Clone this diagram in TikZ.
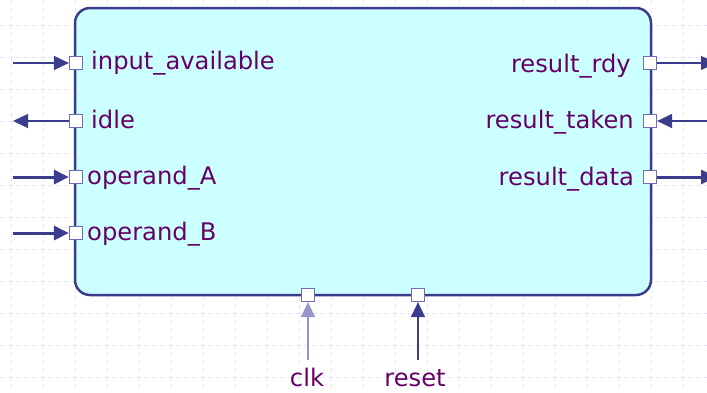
\documentclass[tikz,border=0pt]{standalone}
\usepackage{fontspec}
\setmainfont{DejaVu Sans}
\usetikzlibrary{arrows.meta}
\definecolor{navy}{RGB}{60,60,140}
\definecolor{portedge}{RGB}{110,110,180}
\definecolor{clkline}{RGB}{150,150,200}
\definecolor{boxfill}{RGB}{204,255,255}
\definecolor{labelcol}{RGB}{102,0,102}
\definecolor{gridcol}{RGB}{228,232,255}
\tikzset{
  block/.style={draw=navy, line width=2.5pt, fill=boxfill, rounded corners=15pt},
  port/.style={draw=portedge, line width=1.2pt, fill=white, minimum size=13pt, inner sep=0pt},
  sig/.style={draw=navy, line width=1.3pt, -{Triangle[length=15pt,width=14pt]}},
  bus/.style={draw=navy, line width=3pt, -{Triangle[length=15pt,width=14pt]}},
  lbl/.style={text=labelcol, font=\fontsize{24.2}{29}\selectfont, inner sep=0pt},
  bggrid/.style={draw=gridcol, line width=0.8pt, dash pattern=on 5pt off 3pt}
}
\begin{document}
\begin{tikzpicture}[x=1pt,y=-1pt]
  \useasboundingbox (0,0) rectangle (707,392);
  % background grid
  \foreach \gx in {11,43,...,715} \draw[bggrid] (\gx,0) -- (\gx,392);
  \foreach \gy in {25,57,...,392} \draw[bggrid] (0,\gy) -- (707,\gy);

  % module body
  \draw[block] (75,8) rectangle (651,295);

  % ports on the left edge
  \node[port] (pin)  at (76,63)  {};
  \node[port] (pidl) at (76,121) {};
  \node[port] (popa) at (76,177) {};
  \node[port] (popb) at (76,233) {};
  % ports on the right edge
  \node[port] (prdy) at (650,63)  {};
  \node[port] (ptak) at (650,121) {};
  \node[port] (pdat) at (650,177) {};
  % ports on the bottom edge
  \node[port] (pclk) at (308,295) {};
  \node[port] (prst) at (418,295) {};

  % free ends of the connectors
  \coordinate (ein)  at (13,63);
  \coordinate (eidl) at (13,121);
  \coordinate (eopa) at (13,177);
  \coordinate (eopb) at (13,233);
  \coordinate (erdy) at (716,63);
  \coordinate (etak) at (712,121);
  \coordinate (edat) at (716,177);
  \coordinate (eclk) at (308,360);
  \coordinate (erst) at (418,360);

  % connectors
  \draw[sig] (ein) -- (pin.west);
  \draw[sig] (pidl.west) -- (eidl);
  \draw[bus] (eopa) -- (popa.west);
  \draw[bus] (eopb) -- (popb.west);
  \draw[sig] (prdy.east) -- (erdy);
  \draw[sig] (etak) -- (ptak.east);
  \draw[bus] (pdat.east) -- (edat);
  \draw[sig, draw=clkline] (eclk) -- (pclk.south);
  \draw[sig] (erst) -- (prst.south);

  % port labels
  \node[lbl, anchor=base west] (lin)  at (91,69)  {input\_available};
  \node[lbl, anchor=base west] (lidl) at (91,128) {idle};
  \node[lbl, anchor=base west] (lopa) at (87,184) {operand\_A};
  \node[lbl, anchor=base west] (lopb) at (87,240) {operand\_B};
  \node[lbl, anchor=base east] (lrdy) at (631,72)  {result\_rdy};
  \node[lbl, anchor=base east] (ltak) at (634,128) {result\_taken};
  \node[lbl, anchor=base east] (ldat) at (634,185) {result\_data};
  \node[lbl, anchor=base] (lclk) at (307,386) {clk};
  \node[lbl, anchor=base] (lrst) at (415,386) {reset};
\end{tikzpicture}
\end{document}
